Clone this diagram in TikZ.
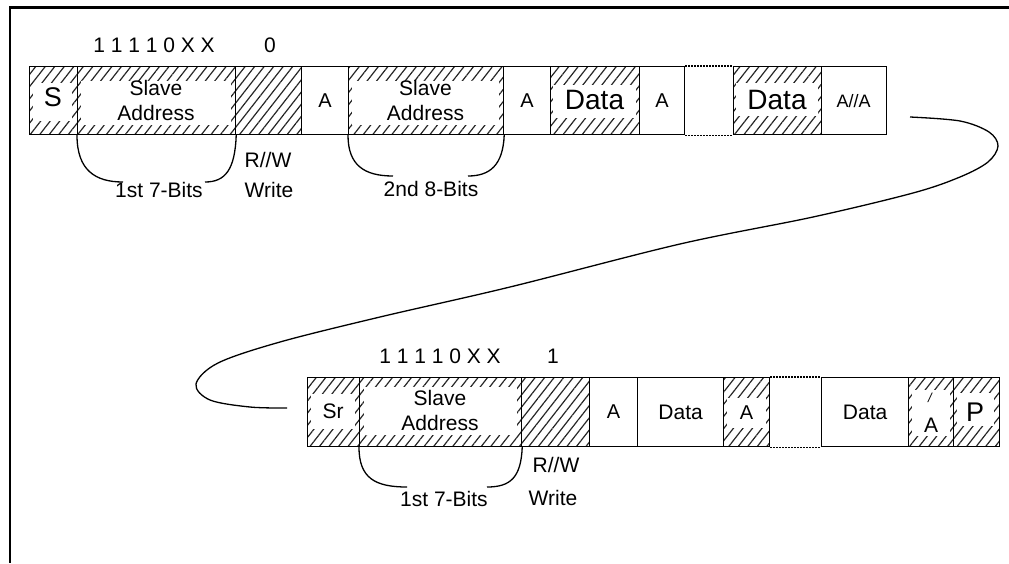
\documentclass[tikz,border=0pt]{standalone}
\usepackage{fontspec}
\setmainfont{Liberation Sans}
\usetikzlibrary{patterns.meta}
\begin{document}
\begin{tikzpicture}[x=1pt,y=-1pt,
  cellT/.style={draw=black, line width=1.2pt, inner sep=0pt, anchor=north west, minimum height=68pt},
  cellB/.style={draw=black, line width=1.2pt, inner sep=0pt, anchor=north west, minimum height=69pt},
  hatch/.style={pattern={Lines[angle=52,distance=7.5pt,line width=1.2pt]}, pattern color=black!85},
  inset/.style={fill=white},
  dotline/.style={line width=1.2pt, dash pattern=on 1.4pt off 1.6pt},
  brace/.style={line width=1.3pt},
  conn/.style={line width=1.3pt},
  t21/.style={font=\fontsize{21}{25}\selectfont, inner sep=0pt, align=center},
  t20/.style={font=\fontsize{20}{24}\selectfont, inner sep=0pt},
  t18/.style={font=\fontsize{18}{22}\selectfont, inner sep=0pt},
  t27/.style={font=\fontsize{27}{30}\selectfont, inner sep=0pt},
  t28/.style={font=\fontsize{28}{30}\selectfont, inner sep=0pt},
  t13/.style={font=\fontsize{13}{15}\selectfont\itshape, inner sep=0pt},
  lbl/.style={font=\fontsize{21}{25}\selectfont, inner sep=0pt, anchor=base},
]
\useasboundingbox (0,0) rectangle (1009,563);
% frame
\draw[line width=2.2pt] (1009,7.5) -- (10,7.5) -- (10,563);

% ---------- top row ----------
\node[cellT, hatch, minimum width=48pt] (S) at (29,66) {};
\fill[inset] (33,83) rectangle (72,121);
\node[t27] (Slbl) at (53,97) {S};

\node[cellT, hatch, minimum width=158pt] (SA1) at (77,66) {};
\fill[inset] (81,81) rectangle (231,125);
\node[t21] (SA1lbl) at (156,100) {Slave\\Address};

\node[cellT, hatch, minimum width=66pt] (RW1) at (235,66) {};

\node[cellT, minimum width=47pt] (A1) at (301,66) {};
\node[t20] (A1lbl) at (A1.center) {A};

\node[cellT, hatch, minimum width=155pt] (SA2) at (348,66) {};
\fill[inset] (352,81) rectangle (499,125);
\node[t21] (SA2lbl) at (425.5,100) {Slave\\Address};

\node[cellT, minimum width=47pt] (A2) at (503,66) {};
\node[t20] (A2lbl) at (A2.center) {A};

\node[cellT, hatch, minimum width=89pt] (D1) at (550,66) {};
\fill[inset] (553,85) rectangle (636,118);
\node[t28] (D1lbl) at (594.5,100) {Data};

\node[cellT, minimum width=45pt] (A3) at (639,66) {};
\node[t20] (A3lbl) at (A3.center) {A};

\node[cellT, hatch, minimum width=88pt] (D2) at (733,66) {};
\fill[inset] (736,83) rectangle (818,116);
\node[t28] (D2lbl) at (777,100) {Data};

\node[cellT, minimum width=65pt] (AA) at (821,66) {};
\node[t18] (AAlbl) at (853.5,101) {A//A};

\draw[dotline] (A3.north east) -- (D2.north west);
\draw[dotline] (A3.south east) -- (D2.south west);

% top labels
\node[lbl] (bits1) at (154,52) {1 1 1 1 0 X X};
\node[lbl] (zero) at (270,52) {0};
\node[lbl] (rw1t) at (268,167) {R//W};
\node[lbl] (wr1t) at (269,197) {Write};
\node[lbl] (f7a) at (159,197) {1st 7-Bits};
\node[lbl] (s8) at (431,196) {2nd 8-Bits};

% top braces
\coordinate (b1l) at (123,182);
\coordinate (b1r) at (205,182);
\draw[brace] (SA1.south west) .. controls (77,170) and (95,182) .. (b1l);
\draw[brace] (SA1.south east) .. controls (235,170) and (225,182) .. (b1r);
\coordinate (b2l) at (393,176);
\coordinate (b2r) at (468,176);
\draw[brace] (SA2.south west) .. controls (348,165) and (364,176) .. (b2l);
\draw[brace] (SA2.south east) .. controls (503,165) and (490,176) .. (b2r);

% ---------- bottom row ----------
\node[cellB, hatch, minimum width=52pt] (SR) at (307,377) {};
\fill[inset] (311,394) rectangle (355,429);
\node[t21] (SRlbl) at (333,411) {Sr};

\node[cellB, hatch, minimum width=162pt] (SA3) at (359,377) {};
\fill[inset] (364,387) rectangle (517,435);
\node[t21] (SA3lbl) at (440,410) {Slave\\Address};

\node[cellB, hatch, minimum width=68pt] (RW2) at (521,377) {};

\node[cellB, minimum width=48pt] (A4) at (589,377) {};
\node[t20] (A4lbl) at (A4.center) {A};

\node[cellB, minimum width=86pt] (D3) at (637,377) {};
\node[t21] (D3lbl) at (D3.center) {Data};

\node[cellB, hatch, minimum width=46pt] (A5) at (723,377) {};
\fill[inset] (727,398) rectangle (766,428);
\node[t20] (A5lbl) at (746.5,413) {A};

\node[cellB, minimum width=87pt] (D4) at (821,377) {};
\node[t21] (D4lbl) at (D4.center) {Data};

\node[cellB, hatch, minimum width=45pt] (NA) at (908,377) {};
\fill[inset] (912,390) rectangle (950,436);
\node[t13] (NAsl) at (930,398) {/};
\node[t21] (NAlbl) at (931,425) {A};

\node[cellB, hatch, minimum width=46pt] (P) at (953,377) {};
\fill[inset] (957,393) rectangle (994,426);
\node[t27] (Plbl) at (975,412) {P};

\draw[dotline] (A5.north east) -- (D4.north west);
\draw[dotline] (A5.south east) -- (D4.south west);

% bottom labels
\node[lbl] (bits2) at (440,363) {1 1 1 1 0 X X};
\node[lbl] (one) at (553,363) {1};
\node[lbl] (rw2t) at (556,472) {R//W};
\node[lbl] (wr2t) at (553,505) {Write};
\node[lbl] (f7b) at (444,506) {1st 7-Bits};

% bottom braces
\coordinate (b3l) at (407,487);
\coordinate (b3r) at (487,487);
\draw[brace] (SA3.south west) .. controls (359,478) and (375,487) .. (b3l);
\draw[brace] (SA3.south east) .. controls (521,478) and (510,487) .. (b3r);

% connector curve
\coordinate (cs) at (910,117);
\coordinate (ce) at (287,408);
\draw[conn] plot[smooth, tension=0.55] coordinates {(cs) (960,121) (989,132) (998,146) (988,162) (960,177) (913,193) (813,217) (680,244) (510,287) (380,317) (280,342) (218,363) (196,384) (210,400) (250,407) (ce)};
\end{tikzpicture}
\end{document}
